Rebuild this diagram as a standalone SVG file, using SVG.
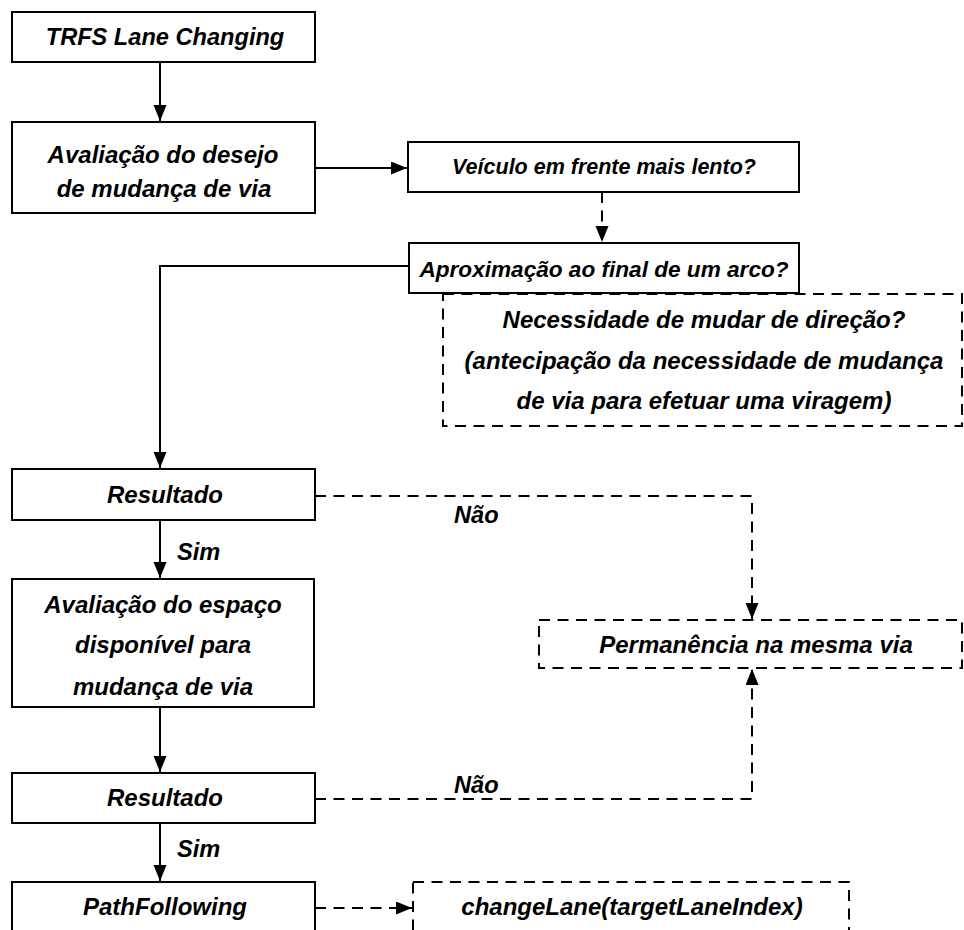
<svg xmlns="http://www.w3.org/2000/svg" width="964" height="930" viewBox="0 0 964 930">
  <style>
    .box { fill: #fff; stroke: #000; stroke-width: 2; }
    .dbox { fill: #fff; stroke: #000; stroke-width: 2; stroke-dasharray: 11 7.5; }
    .t { font-family: "Liberation Sans", Arial, sans-serif; font-size: 24px; font-weight: bold; font-style: italic; fill: #000; text-anchor: middle; }
    .lbl { font-family: "Liberation Sans", Arial, sans-serif; font-size: 23.6px; font-weight: bold; font-style: italic; fill: #000; }
    .line { fill: none; stroke: #000; stroke-width: 2; }
    .dline { fill: none; stroke: #000; stroke-width: 2; stroke-dasharray: 11 7.5; }
  </style>
  <defs>
    <marker id="arrow" markerUnits="userSpaceOnUse" markerWidth="17" markerHeight="14" refX="16" refY="6.5" orient="auto">
      <path d="M0,0 L16,6.5 L0,13 Z" fill="#000"/>
    </marker>
  </defs>
  <rect width="964" height="930" fill="#fff"/>

  <g id="connectors">
    <line class="line" x1="160" y1="62" x2="160" y2="121" marker-end="url(#arrow)"/>
    <line class="line" x1="315" y1="168" x2="407" y2="168" marker-end="url(#arrow)"/>
    <line class="dline" x1="602" y1="192" x2="602" y2="242" marker-end="url(#arrow)"/>
    <polyline class="line" points="409,266 160,266 160,468" marker-end="url(#arrow)"/>
    <polyline class="dline" points="315,496 752,496 752,619" marker-end="url(#arrow)"/>
    <line class="line" x1="160" y1="520" x2="160" y2="578" marker-end="url(#arrow)"/>
    <line class="line" x1="160" y1="707" x2="160" y2="772" marker-end="url(#arrow)"/>
    <polyline class="dline" points="315,799 752,799 752,669" marker-end="url(#arrow)"/>
    <line class="line" x1="160" y1="823" x2="160" y2="881" marker-end="url(#arrow)"/>
    <line class="dline" x1="315" y1="908" x2="412" y2="908" marker-end="url(#arrow)"/>
    <text class="lbl" x="454" y="523">Não</text>
    <text class="lbl" x="177" y="560">Sim</text>
    <text class="lbl" x="454" y="793">Não</text>
    <text class="lbl" x="177" y="857">Sim</text>
  </g>

  <g id="trfs">
    <rect class="box" x="12" y="12" width="303" height="50"/>
    <text class="t" x="165" y="45" style="font-size:23.6px">TRFS Lane Changing</text>
  </g>

  <g id="avaliacao-desejo">
    <rect class="box" x="12" y="122" width="303" height="91"/>
    <text class="t" x="163" y="163">Avaliação do desejo</text>
    <text class="t" x="164" y="197">de mudança de via</text>
  </g>

  <g id="veiculo">
    <rect class="box" x="408" y="142" width="391" height="50"/>
    <text class="t" x="604" y="174" style="font-size:21.5px">Veículo em frente mais lento?</text>
  </g>

  <g id="necessidade">
    <rect class="dbox" x="443" y="294" width="519" height="132"/>
    <text class="t" x="704" y="328">Necessidade de mudar de direção?</text>
    <text class="t" x="704" y="369">(antecipação da necessidade de mudança</text>
    <text class="t" x="704" y="409">de via para efetuar uma viragem)</text>
  </g>

  <g id="aproximacao">
    <rect class="box" x="409" y="243" width="390" height="50"/>
    <text class="t" x="604" y="277" style="font-size:22.6px">Aproximação ao final de um arco?</text>
  </g>

  <g id="resultado-1">
    <rect class="box" x="12" y="469" width="303" height="51"/>
    <text class="t" x="165" y="503">Resultado</text>
  </g>

  <g id="avaliacao-espaco">
    <rect class="box" x="12" y="579" width="302" height="128"/>
    <text class="t" x="163" y="613">Avaliação do espaço</text>
    <text class="t" x="163" y="653">disponível para</text>
    <text class="t" x="163" y="695">mudança de via</text>
  </g>

  <g id="permanencia">
    <rect class="dbox" x="539" y="620" width="423" height="48"/>
    <text class="t" x="756" y="653">Permanência na mesma via</text>
  </g>

  <g id="resultado-2">
    <rect class="box" x="12" y="773" width="303" height="50"/>
    <text class="t" x="165" y="806">Resultado</text>
  </g>

  <g id="path-following">
    <rect class="box" x="12" y="882" width="303" height="60"/>
    <text class="t" x="165" y="915">PathFollowing</text>
  </g>

  <g id="change-lane">
    <rect class="dbox" x="413" y="882" width="436" height="60"/>
    <text class="t" x="632" y="915">changeLane(targetLaneIndex)</text>
  </g>
</svg>
